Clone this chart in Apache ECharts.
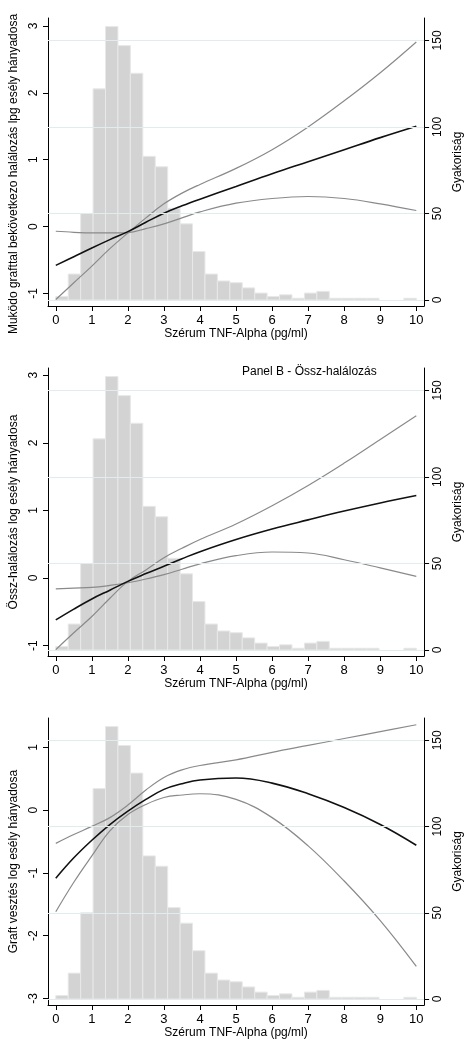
<!DOCTYPE html>
<html><head><meta charset="utf-8">
<script src="https://cdn.jsdelivr.net/npm/echarts@6/dist/echarts.min.js"></script>
<style>html,body{margin:0;padding:0;background:#fff}#c{width:472px;height:1040px}</style>
</head><body><div id="c"></div>
<script>
// ---- data ----
const xTicks = [0,1,2,3,4,5,6,7,8,9,10];
const freqTicks = [0,50,100,150];
const yTicksA = [-1,0,1,2,3];
const yTicksB = [-1,0,1,2,3];
const yTicksC = [-3,-2,-1,0,1];

// histogram: 29 bins over 0..10 pg/ml
const binCount = 29;
const binLo = 0, binHi = 10;
const counts = [2,15,50,122,158,147,131,83,77,53,44,28,15,11,10,7,4,2,3,1,4,5,1,1,1,1,0,0,1];

const tnf = [0,0.5,1,1.5,2,2.5,3,3.5,4,5,6,7,8,9,10];
// Panel A
const fitA = [-0.58,-0.45,-0.32,-0.195,-0.075,0.065,0.2,0.31,0.41,0.6,0.79,0.97,1.15,1.33,1.5];
const ci1A = [-1.09,-0.84,-0.59,-0.33,-0.095,0.13,0.34,0.5,0.63,0.87,1.15,1.49,1.88,2.3,2.76];
const ci2A = [-0.07,-0.085,-0.095,-0.095,-0.09,-0.03,0.04,0.13,0.22,0.35,0.42,0.45,0.42,0.34,0.24];
// Panel B
const fitB = [-0.62,-0.46,-0.31,-0.18,-0.05,0.065,0.175,0.285,0.39,0.57,0.725,0.86,0.99,1.11,1.22];
const ci1B = [-1.06,-0.81,-0.57,-0.3,-0.05,0.12,0.3,0.44,0.57,0.8,1.07,1.37,1.7,2.05,2.4];
const ci2B = [-0.16,-0.15,-0.14,-0.11,-0.07,-0.015,0.05,0.13,0.21,0.33,0.385,0.37,0.27,0.15,0.025];
// Panel C
const fitC = [-1.085,-0.76,-0.48,-0.23,-0.016,0.17,0.33,0.42,0.48,0.51,0.43,0.26,0.04,-0.23,-0.56];
const ci1C = [-0.53,-0.39,-0.26,-0.12,0.08,0.32,0.52,0.64,0.71,0.8,0.92,1.03,1.14,1.25,1.36];
const ci2C = [-1.62,-1.15,-0.73,-0.33,-0.07,0.09,0.2,0.24,0.26,0.17,-0.12,-0.57,-1.13,-1.76,-2.49];

const yTitleA = 'Muködo grafttal bekövetkezo halálozás lpg esély hányadosa';
const yTitleB = 'Össz-halálozás log esély hányadosa';
const yTitleC = 'Graft vesztés log esély hányadosa';
const xTitle = 'Szérum TNF-Alpha (pg/ml)';
const y2Title = 'Gyakoriság';
const panelBTitle = 'Panel B - Össz-halálozás';

// ---- chart ----
const FONT = '"Liberation Sans", Arial, sans-serif';
const binW = (binHi - binLo) / binCount;
const histData = counts.map((c, i) => [binLo + i * binW, binLo + (i + 1) * binW, c]);
const zip = (xs, ys) => xs.map((x, i) => [x, ys[i]]);

const panels = [
  {top: 18, ymin: -1.187, ymax: 3.118, ticks: yTicksA, title: yTitleA, fit: fitA, c1: ci1A, c2: ci2A, namePad: [0, 24, 0, 0]},
  {top: 368, ymin: -1.154, ymax: 3.107, ticks: yTicksB, title: yTitleB, fit: fitB, c1: ci1B, c2: ci2B, namePad: 0},
  {top: 718, ymin: -3.105, ymax: 1.467, ticks: yTicksC, title: yTitleC, fit: fitC, c1: ci1C, c2: ci2C, namePad: 0}
];

const grid = [], xAxis = [], yAxis = [], series = [];
panels.forEach((p, i) => {
  grid.push({left: 48, top: p.top, width: 387, height: 288, containLabel: false});
  xAxis.push({
    type: 'value', gridIndex: i, min: -0.216, max: 10.216,
    axisLine: {show: true, onZero: false, lineStyle: {color: '#000', width: 1}},
    axisTick: {show: true, length: 5, customValues: xTicks, lineStyle: {color: '#000'}},
    axisLabel: {customValues: xTicks, margin: 8, fontSize: 13, color: '#000', fontFamily: FONT},
    splitLine: {show: false},
    name: xTitle, nameLocation: 'middle', nameGap: 22,
    nameTextStyle: {fontSize: 12, color: '#000', fontFamily: FONT}
  });
  yAxis.push({
    type: 'value', gridIndex: i, position: 'left', min: p.ymin, max: p.ymax,
    axisLine: {show: true, onZero: false, lineStyle: {color: '#000', width: 1}},
    axisTick: {show: true, length: 5, customValues: p.ticks, lineStyle: {color: '#000'}},
    axisLabel: {customValues: p.ticks, rotate: 90, margin: 8, fontSize: 12, color: '#000', fontFamily: FONT},
    splitLine: {show: false},
    name: p.title, nameLocation: 'middle', nameRotate: 90, nameGap: 21,
    nameTextStyle: {fontSize: 12, color: '#000', fontFamily: FONT, padding: p.namePad}
  });
  yAxis.push({
    type: 'value', gridIndex: i, position: 'right', min: -3.47, max: 162.95,
    axisLine: {show: true, onZero: false, lineStyle: {color: '#000', width: 1}},
    axisTick: {show: true, length: 5, customValues: freqTicks, lineStyle: {color: '#000'}},
    axisLabel: {customValues: freqTicks, rotate: 90, margin: 8, fontSize: 12, color: '#000', fontFamily: FONT},
    splitLine: {show: false},
    name: y2Title, nameLocation: 'middle', nameRotate: 90, nameGap: 22,
    nameTextStyle: {fontSize: 12, color: '#000', fontFamily: FONT}
  });
  // gridlines at frequency ticks
  series.push({
    type: 'line', xAxisIndex: i, yAxisIndex: 2 * i + 1, data: [], z: 1, silent: true,
    markLine: {silent: true, symbol: 'none', animation: false, label: {show: false},
      lineStyle: {color: '#e0ecee', width: 1, type: 'solid'},
      data: freqTicks.map(v => ({yAxis: v}))}
  });
  series.push({
    type: 'custom', xAxisIndex: i, yAxisIndex: 2 * i + 1, z: 2, data: histData,
    encode: {x: [0, 1], y: 2},
    renderItem: (params, api) => {
      const c = api.value(2);
      if (!c) return null;
      const p0 = api.coord([api.value(0), c]);
      const p1 = api.coord([api.value(1), 0]);
      return {type: 'rect', shape: {x: p0[0], y: p0[1], width: p1[0] - p0[0], height: p1[1] - p0[1]},
        style: {fill: '#d3d3d3', stroke: '#e8e8e8', lineWidth: 1}};
    }
  });
  const lineS = (d, color, w) => ({
    type: 'line', xAxisIndex: i, yAxisIndex: 2 * i, data: zip(tnf, d), smooth: 0.4,
    showSymbol: false, z: 3, lineStyle: {color: color, width: w}
  });
  series.push(lineS(p.c1, '#8a8a8a', 1.2));
  series.push(lineS(p.c2, '#8a8a8a', 1.2));
  series.push(lineS(p.fit, '#111', 1.6));
});

const chart = echarts.init(document.getElementById('c'), null, {renderer: 'canvas'});
chart.setOption({
  animation: false,
  backgroundColor: '#fff',
  title: {text: panelBTitle, left: 242, top: 366, padding: 0,
    textStyle: {fontSize: 12, fontWeight: 'normal', color: '#000', fontFamily: FONT}},
  grid, xAxis, yAxis, series
});
</script>
</body></html>
